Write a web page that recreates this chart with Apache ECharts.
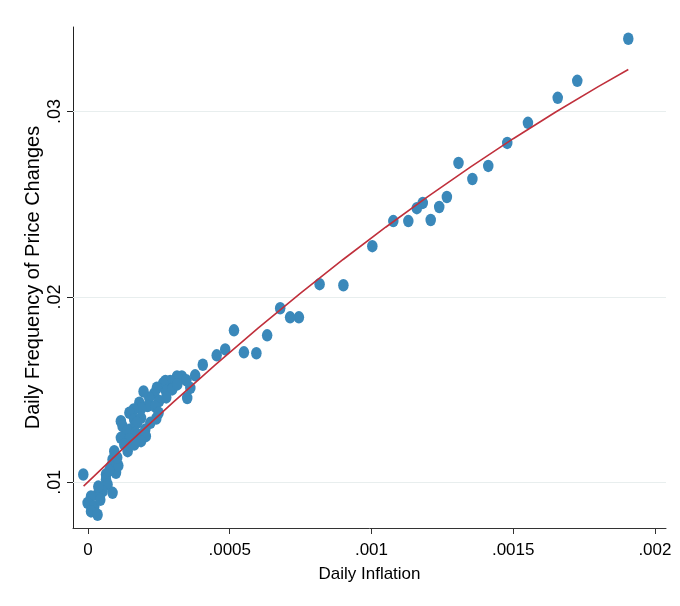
<!DOCTYPE html>
<html>
<head>
<meta charset="utf-8">
<script src="https://cdn.jsdelivr.net/npm/echarts@6/dist/echarts.min.js"></script>
<style>
  html, body { margin: 0; padding: 0; background: #ffffff; }
  #chart { width: 680px; height: 606px; }
</style>
</head>
<body>
<div id="chart"></div>
<script>
// Daily inflation (x) against daily frequency of price changes (y)
const inflation = [
  0.001906, 0.001726, 0.001657, 0.001552, 0.001479, 0.001307, 0.001412, 0.001356,
  0.001266, 0.001239, 0.001181, 0.001160, 0.001209, 0.001130, 0.001077, 0.001003,
  0.000901, 0.000817, 0.000744, 0.000713, 0.000678, 0.000632, 0.000594, 0.000550,
  0.000515, 0.000484, 0.000454, 0.000405, 0.000378, 0.000361, 0.000350, 0.000331,
  0.000314, 0.000290, 0.000273, 0.000265, 0.000275, 0.000243, 0.000234, 0.000251,
  0.000216, 0.000196, 0.000181, 0.000210, 0.000237, 0.000249, 0.000187, 0.000161,
  0.000146, 0.000220, 0.000241, 0.000163, 0.000187, 0.000173, 0.000116, 0.000122,
  0.000202, 0.000149, 0.000140, 0.000167, 0.000175, 0.000204, 0.000116, 0.000146,
  0.000187, 0.000140, 0.0000927, 0.0000867, 0.0000811, 0.0000987, 0.0000635, 0.0000635,
  0.0000691, 0.0000867, 0.0000515, 0.0000338, 0.0000106, -0.0000014, 0.0000222, 0.0000106,
  0.0000338, -0.0000166, 0.000107, 0.0000751, 0.0000434, 0.000128, 0.000297, 0.000347,
  0.000315, 0.000163, 0.000103, 0.0000363, 0.000276
];
const freq = [
  0.03393, 0.03166, 0.03074, 0.02939, 0.02831, 0.02723, 0.02707, 0.02636,
  0.02539, 0.02485, 0.02507, 0.02479, 0.02415, 0.02409, 0.02409, 0.02274,
  0.02063, 0.02069, 0.01890, 0.01890, 0.01939, 0.01793, 0.01696, 0.01701,
  0.01820, 0.01717, 0.01685, 0.01634, 0.01577, 0.01509, 0.01455, 0.01571,
  0.01571, 0.01547, 0.01547, 0.01534, 0.01492, 0.01510, 0.01479, 0.01438,
  0.01456, 0.01490, 0.01429, 0.01411, 0.01409, 0.01375, 0.01398, 0.01393,
  0.01375, 0.01321, 0.01344, 0.01339, 0.01348, 0.01321, 0.01330, 0.01303,
  0.01285, 0.01285, 0.01276, 0.01267, 0.01258, 0.01249, 0.01240, 0.01231,
  0.01222, 0.01168, 0.01168, 0.01123, 0.01086, 0.01051, 0.01042, 0.01015,
  0.00988, 0.00943, 0.00951, 0.00934, 0.00924, 0.00889, 0.00870, 0.00843,
  0.00825, 0.01042, 0.01090, 0.01063, 0.00906, 0.01204, 0.01501, 0.01550,
  0.01528, 0.01204, 0.01134, 0.00977, 0.01458
];

// Quadratic fitted curve, sampled along its length
const fitInflation = [
  -0.0000155, 0.00015, 0.0003, 0.00045, 0.0006, 0.00075, 0.0009,
  0.00105, 0.0012, 0.00135, 0.0015, 0.00165, 0.0018, 0.001906
];
const fitFreq = [
  0.009790, 0.012204, 0.014316, 0.016353, 0.018316, 0.020205, 0.022020,
  0.023760, 0.025426, 0.027018, 0.028536, 0.029979, 0.031348, 0.032270
];

// Axis ticks and their printed labels
const xTicks = [0, 0.0005, 0.001, 0.0015, 0.002];
const xTickLabels = ['0', '.0005', '.001', '.0015', '.002'];
const yTicks = [0.01, 0.02, 0.03];
const yTickLabels = ['.01', '.02', '.03'];

const xRange = [-0.0000529, 0.002039];
const yRange = [0.007535, 0.034562];

const ellipse = 'path://M0 50A50 50 0 1 1 100 50A50 50 0 1 1 0 50Z';
const labelFor = (ticks, labels) => (v) => {
  const i = ticks.findIndex(t => Math.abs(t - v) < 1e-9);
  return i >= 0 ? labels[i] : '';
};

const chart = echarts.init(document.getElementById('chart'), null, { renderer: 'canvas' });
chart.setOption({
  animation: false,
  backgroundColor: '#ffffff',
  textStyle: { fontFamily: 'Liberation Sans, Arial, Helvetica, sans-serif' },
  grid: { left: 73, right: 14, top: 27, bottom: 78, containLabel: false },
  xAxis: {
    type: 'value',
    min: xRange[0],
    max: xRange[1],
    name: 'Daily Inflation',
    nameLocation: 'middle',
    nameMoveOverlap: false,
    nameGap: 38,
    nameTextStyle: { fontSize: 17, color: '#000' },
    axisLine: { show: true, onZero: false, lineStyle: { color: '#333', width: 1 } },
    axisTick: { show: true, length: 6, customValues: xTicks, lineStyle: { color: '#333' } },
    axisLabel: {
      customValues: xTicks, margin: 14, fontSize: 17, color: '#000',
      formatter: labelFor(xTicks, xTickLabels)
    },
    splitLine: { show: false }
  },
  yAxis: {
    type: 'value',
    min: yRange[0],
    max: yRange[1],
    name: 'Daily Frequency of Price Changes',
    nameLocation: 'middle',
    nameMoveOverlap: false,
    nameGap: 30,
    nameTextStyle: { fontSize: 20, color: '#000' },
    axisLine: { show: true, onZero: false, lineStyle: { color: '#222', width: 1 } },
    axisTick: { show: true, length: 6, customValues: yTicks, lineStyle: { color: '#222' } },
    axisLabel: {
      customValues: yTicks, rotate: 90, margin: 9, fontSize: 18, color: '#000',
      formatter: labelFor(yTicks, yTickLabels)
    },
    splitLine: { show: false }
  },
  series: [
    {
      type: 'scatter',
      data: inflation.map((x, i) => [x, freq[i]]),
      symbol: ellipse,
      symbolSize: [10.5, 12.5],
      itemStyle: { color: '#3a88ba', opacity: 1 },
      z: 3,
      markLine: {
        silent: true,
        symbol: 'none',
        label: { show: false },
        lineStyle: { color: '#e8eeee', width: 1.2, type: 'solid' },
        data: yTicks.map(v => ({ yAxis: v })),
        z: 1
      }
    },
    {
      type: 'line',
      data: fitInflation.map((x, i) => [x, fitFreq[i]]),
      smooth: false,
      showSymbol: false,
      symbol: 'none',
      lineStyle: { color: '#c0303c', width: 1.6 },
      z: 5
    }
  ]
});
</script>
</body>
</html>
